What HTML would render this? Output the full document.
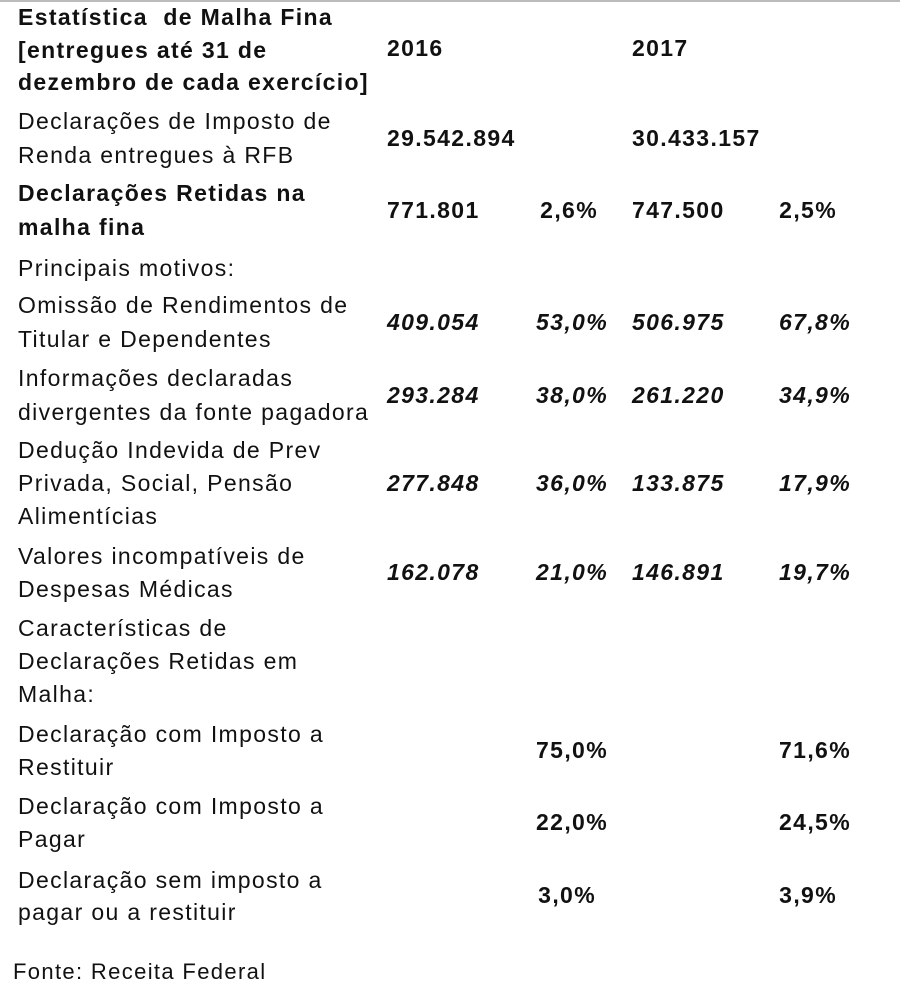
<!DOCTYPE html>
<html><head><meta charset="utf-8"><style>
body{margin:0;width:900px;height:994px;background:#fff;position:relative;overflow:hidden;font-family:"Liberation Sans",Arial,sans-serif;color:#111}
.t{position:absolute;font-size:23px;line-height:34px;white-space:nowrap;letter-spacing:1.35px}
.b{font-weight:bold}.i{font-style:italic;font-weight:bold}
.r{text-align:right}
.top{position:absolute;left:0;top:0;width:900px;height:2px;background:#bbb}
</style></head><body>
<div class="top"></div>
<div class="t b" style="left:18px;top:0px">Estatística &nbsp;de Malha Fina</div>
<div class="t b" style="left:18px;top:33px">[entregues até 31 de</div>
<div class="t b" style="left:18px;top:65px">dezembro de cada exercício]</div>
<div class="t b" style="left:387px;top:31px">2016</div>
<div class="t b" style="left:632px;top:31px">2017</div>

<div class="t" style="left:18px;top:104px">Declarações de Imposto de</div>
<div class="t" style="left:18px;top:138px">Renda entregues à RFB</div>
<div class="t b" style="left:387px;top:121px">29.542.894</div>
<div class="t b" style="left:632px;top:121px">30.433.157</div>

<div class="t b" style="left:18px;top:176px">Declarações Retidas na</div>
<div class="t b" style="left:18px;top:210px">malha fina</div>
<div class="t b" style="left:387px;top:193px">771.801</div>
<div class="t b r" style="right:302px;top:193px">2,6%</div>
<div class="t b" style="left:632px;top:193px">747.500</div>
<div class="t b r" style="right:63px;top:193px">2,5%</div>

<div class="t" style="left:18px;top:251px">Principais motivos:</div>

<div class="t" style="left:18px;top:288px">Omissão de Rendimentos de</div>
<div class="t" style="left:18px;top:322px">Titular e Dependentes</div>
<div class="t i" style="left:387px;top:305px">409.054</div>
<div class="t i r" style="right:292px;top:305px">53,0%</div>
<div class="t i" style="left:632px;top:305px">506.975</div>
<div class="t i r" style="right:49px;top:305px">67,8%</div>

<div class="t" style="left:18px;top:361px">Informações declaradas</div>
<div class="t" style="left:18px;top:395px">divergentes da fonte pagadora</div>
<div class="t i" style="left:387px;top:378px">293.284</div>
<div class="t i r" style="right:292px;top:378px">38,0%</div>
<div class="t i" style="left:632px;top:378px">261.220</div>
<div class="t i r" style="right:49px;top:378px">34,9%</div>

<div class="t" style="left:18px;top:433px">Dedução Indevida de Prev</div>
<div class="t" style="left:18px;top:466px">Privada, Social, Pensão</div>
<div class="t" style="left:18px;top:499px">Alimentícias</div>
<div class="t i" style="left:387px;top:466px">277.848</div>
<div class="t i r" style="right:292px;top:466px">36,0%</div>
<div class="t i" style="left:632px;top:466px">133.875</div>
<div class="t i r" style="right:49px;top:466px">17,9%</div>

<div class="t" style="left:18px;top:539px">Valores incompatíveis de</div>
<div class="t" style="left:18px;top:572px">Despesas Médicas</div>
<div class="t i" style="left:387px;top:555px">162.078</div>
<div class="t i r" style="right:292px;top:555px">21,0%</div>
<div class="t i" style="left:632px;top:555px">146.891</div>
<div class="t i r" style="right:49px;top:555px">19,7%</div>

<div class="t" style="left:18px;top:611px">Características de</div>
<div class="t" style="left:18px;top:644px">Declarações Retidas em</div>
<div class="t" style="left:18px;top:677px">Malha:</div>

<div class="t" style="left:18px;top:717px">Declaração com Imposto a</div>
<div class="t" style="left:18px;top:750px">Restituir</div>
<div class="t b r" style="right:292px;top:733px">75,0%</div>
<div class="t b r" style="right:49px;top:733px">71,6%</div>

<div class="t" style="left:18px;top:789px">Declaração com Imposto a</div>
<div class="t" style="left:18px;top:822px">Pagar</div>
<div class="t b r" style="right:292px;top:805px">22,0%</div>
<div class="t b r" style="right:49px;top:805px">24,5%</div>

<div class="t" style="left:18px;top:863px">Declaração sem imposto a</div>
<div class="t" style="left:18px;top:895px">pagar ou a restituir</div>
<div class="t b r" style="right:304px;top:878px">3,0%</div>
<div class="t b r" style="right:63px;top:878px">3,9%</div>

<div class="t" style="left:13px;top:955px;font-size:22px">Fonte: Receita Federal</div>
</body></html>
